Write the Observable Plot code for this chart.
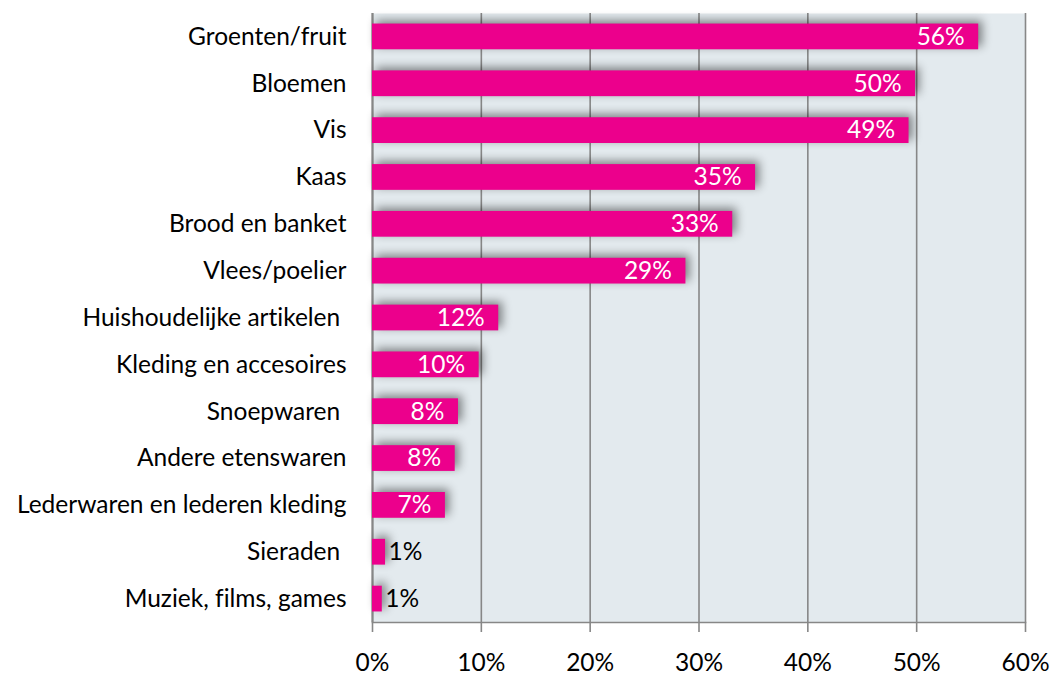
<!DOCTYPE html>
<html>
<head>
<meta charset="utf-8">
<script src="https://cdn.jsdelivr.net/npm/d3@7"></script>
<script src="https://cdn.jsdelivr.net/npm/@observablehq/plot@0.6"></script>
<style>
  html, body { margin: 0; padding: 0; background: #fff; }
  #chart svg { display: block; }
  #chart svg text { font-variant-ligatures: none; font-feature-settings: "liga" 0; }
</style>
</head>
<body>
<div id="chart"></div>
<script>
const categories = [
  "Groenten/fruit",
  "Bloemen",
  "Vis",
  "Kaas",
  "Brood en banket",
  "Vlees/poelier",
  "Huishoudelijke artikelen ",
  "Kleding en accesoires",
  "Snoepwaren ",
  "Andere etenswaren",
  "Lederwaren en lederen kleding",
  "Sieraden ",
  "Muziek, films, games"
];
const values = [55.7, 49.9, 49.3, 35.2, 33.1, 28.8, 11.6, 9.8, 7.9, 7.6, 6.7, 1.2, 0.9];
const valueLabels = ["56%", "50%", "49%", "35%", "33%", "29%", "12%", "10%", "8%", "8%", "7%", "1%", "1%"];
const xTicks = [0, 10, 20, 30, 40, 50, 60];

const data = categories.map((c, i) => ({category: c, value: values[i], label: valueLabels[i]}));
const inside = data.filter(d => d.value >= 3);
const outside = data.filter(d => d.value < 3);

const font = "Lato, 'Open Sans', sans-serif";
const fs = 24.5;

const chart = Plot.plot({
  width: 1051,
  height: 675,
  marginLeft: 372,
  marginRight: 26,
  marginTop: 13,
  marginBottom: 53,
  style: {fontFamily: font, fontSize: fs + "px", color: "#000", background: "#fff"},
  x: {domain: [0, 60], ticks: xTicks, label: null},
  y: {domain: categories, paddingInner: 0.45, paddingOuter: 0.225, round: false, label: null},
  marks: [
    Plot.frame({fill: "#e3eaee", stroke: null}),
    Plot.gridX(xTicks, {stroke: "#878787", strokeOpacity: 1, strokeWidth: 1.6}),
    Plot.ruleX([0], {stroke: "#878787", strokeWidth: 2}),
    Plot.frame({anchor: "bottom", stroke: "#878787", strokeWidth: 1.6}),
    Plot.axisX(xTicks, {tickSize: 10, tickPadding: 21, stroke: "#878787", strokeWidth: 1.6,
      tickFormat: d => d + "%", fontSize: fs, fill: "#000", label: null}),
    Plot.axisY({tickSize: 0, tickPadding: 26, fontSize: fs, fill: "#000", label: null,
      tickFormat: d => d.replace(/ $/, "\u00a0")}),
    Plot.barX(data, {x: "value", y: "category", fill: "#ec008c", className: "bars"}),
    Plot.text(inside, {x: "value", y: "category", text: "label", textAnchor: "end", dx: -14, fill: "#fff", fontSize: fs}),
    Plot.text(outside, {x: "value", y: "category", text: "label", textAnchor: "start", dx: 3, fill: "#000", fontSize: fs})
  ]
});

document.getElementById("chart").appendChild(chart);
chart.querySelectorAll(".bars rect").forEach(r => {
  r.style.filter = "drop-shadow(4px -3px 5px rgba(0,0,0,0.45))";
});
</script>
</body>
</html>
